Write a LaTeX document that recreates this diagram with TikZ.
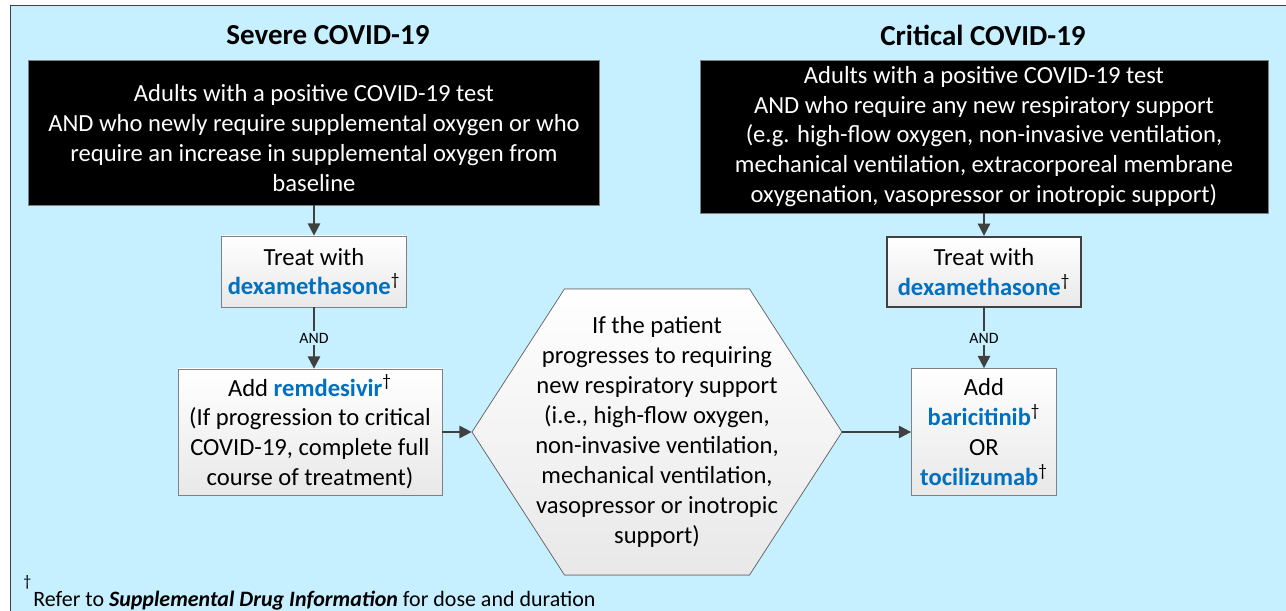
\documentclass[tikz,border=0pt]{standalone}
\usepackage{fontspec}
\setmainfont{Carlito}
\usetikzlibrary{arrows.meta}
\definecolor{panel}{RGB}{198,240,255}
\definecolor{drugblue}{RGB}{0,112,192}
\definecolor{darkline}{RGB}{64,64,64}
\newcommand{\drugname}[1]{\textbf{\color{drugblue}#1}\textsuperscript{\dag}}
\begin{document}
\begin{tikzpicture}[>={Triangle[length=7pt,width=7pt]}, title/.style = {font=\fontsize{16.5}{19}\selectfont\bfseries}, blackbox/.style = {draw=gray, fill=black, text=white, align=center, font=\fontsize{14}{17}\selectfont}, box/.style = {draw=gray, top color=white, bottom color=gray!18, align=center, font=\fontsize{14}{17}\selectfont}, label/.style = {fill=panel, inner sep=1, outer sep=1, font=\fontsize{9}{11}\selectfont}, link/.style = {->, draw=darkline, line width=1.1pt}]
  \useasboundingbox[fill=white] (0, 0) rectangle (25.72, -12.22);
  \draw[darkline, fill=panel] (0.2, -0.1) rectangle (26.2, -12.6);
  \node[title] at (6.56, -0.70) (severe-title) {Severe COVID-19};
  \node[title] at (19.66, -0.70) (critical-title) {Critical COVID-19};
  \node[blackbox, minimum width=11.42cm, minimum height=2.9cm] at (6.28, -2.65) (severe-who) {\rule{0pt}{16pt}Adults with a positive COVID-19 test\\AND who newly require supplemental oxygen or who\\require an increase in supplemental oxygen from\\baseline};
  \node[blackbox, minimum width=11.36cm, minimum height=3.06cm] at (19.68, -2.73) (critical-who) {Adults with a positive COVID-19 test\\AND who require any new respiratory support\\(e.g. high-flow oxygen, non-invasive ventilation,\\mechanical ventilation, extracorporeal membrane\\oxygenation, vasopressor or inotropic support)};
  \node[box, minimum width=3.7cm, minimum height=1.42cm] at (6.28, -5.43) (severe-treat) {Treat with\\\drugname{dexamethasone}};
  \node[box, minimum width=5.28cm, minimum height=2.52cm] at (6.2, -8.64) (severe-add) {Add \drugname{remdesivir}\\(If progression to critical\\COVID-19, complete full\\course of treatment)};
  \node[box, draw=darkline, line width=1.3pt, minimum width=3.88cm, minimum height=1.4cm] at (19.68, -5.44) (critical-treat) {Treat with\\\drugname{dexamethasone}};
  \node[box, minimum width=2.9cm, minimum height=2.54cm] at (19.68, -8.64) (critical-add) {Add\\\drugname{baricitinib}\\OR\\\drugname{tocilizumab}};
  \filldraw[draw=darkline!80, top color=white, bottom color=gray!18, shift={(13.14, -8.64)}] (-3.7, 0) -- (-1.85, 2.86) -- (1.85, 2.86) -- (3.7, 0) -- (1.85, -2.86) -- (-1.85, -2.86) -- cycle;
  \node[align=center, minimum width=7.4cm, minimum height=5.72cm, inner sep=0, font=\fontsize{14}{17}\selectfont] at (13.14, -8.64) (progress) {If the patient\\progresses to requiring\\new respiratory support\\(i.e., high-flow oxygen,\\non-invasive ventilation,\\mechanical ventilation,\\vasopressor or inotropic\\support)};
  \draw[link] (severe-who.south) -- (severe-treat.north);
  \draw[link] (critical-who.south) -- (critical-treat.north);
  \draw[link] (severe-treat.south) -- node[label] {AND} (severe-treat.south |- severe-add.north);
  \draw[link] (critical-treat.south) -- node[label] {AND} (critical-add.north);
  \draw[link] (severe-add.east) -- (progress.west);
  \draw[link] (progress.east) -- (critical-add.west);
  \node[anchor=base west, inner sep=0, font=\fontsize{12.5}{15}\selectfont] at (0.46, -12.13) (footnote) {\raisebox{11.5pt}{\fontsize{9}{9}\selectfont\dag}\kern0.1em Refer to \textbf{\textit{Supplemental Drug Information}} for dose and duration};
\end{tikzpicture}
\end{document}
